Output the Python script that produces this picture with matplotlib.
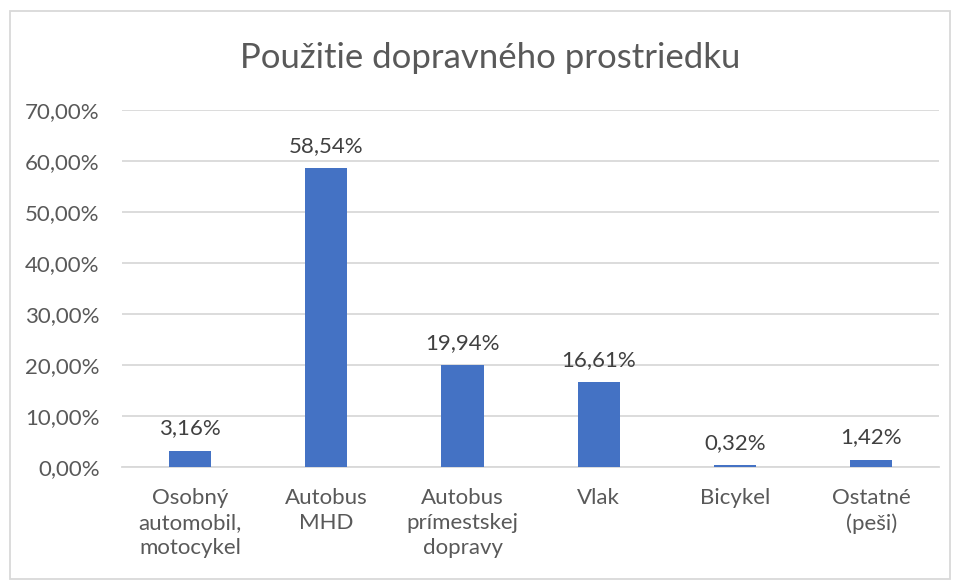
import matplotlib
matplotlib.use("Agg")
import matplotlib.pyplot as plt
from matplotlib.patches import Rectangle

# data
kategorie = ["Osobný\nautomobil,\nmotocykel", "Autobus\nMHD", "Autobus\nprímestskej\ndopravy",
             "Vlak", "Bicykel", "Ostatné\n(peši)"]
podiely = [3.16, 58.54, 19.94, 16.61, 0.32, 1.42]
y_ticky = [0, 10, 20, 30, 40, 50, 60, 70]

plt.rcParams['font.family'] = ['Lato', 'DejaVu Sans']
sivá = "#595959"

fig = plt.figure(figsize=(9.56, 5.81), dpi=100)
ax = fig.add_axes([0.1276, 0.196, 0.855, 0.6147])

x = list(range(len(kategorie)))
ax.bar(x, podiely, width=0.31, color="#4472C4", zorder=3)

for xi, v in zip(x, podiely):
    ax.annotate(f"{v:.2f}%".replace(".", ","), (xi, v), xytext=(0, 9),
                textcoords="offset points", ha="center", va="bottom",
                fontsize=16, color="#404040")

ax.set_xlim(-0.5, len(kategorie) - 0.5)
ax.set_ylim(0, 70)
ax.set_yticks(y_ticky)
ax.set_yticklabels([f"{t:.2f}%".replace(".", ",") for t in y_ticky])
ax.set_xticks(x)
ax.set_xticklabels(kategorie, linespacing=1.32)
ax.tick_params(axis="both", length=0, labelsize=16, labelcolor=sivá)
ax.tick_params(axis="y", pad=16)
ax.tick_params(axis="x", pad=15)
ax.grid(axis="y", color="#D9D9D9", linewidth=1.3, zorder=0)
for s in ["top", "right", "left"]:
    ax.spines[s].set_visible(False)
ax.spines["bottom"].set_color("#D9D9D9")
ax.spines["bottom"].set_linewidth(1.3)

fig.text(0.513, 0.9, "Použitie dopravného prostriedku", ha="center", va="center",
         fontsize=25, color=sivá)

# ram okolo grafu
fig.patches.append(Rectangle((10 / 956, 2 / 581), 940 / 956, 568 / 581,
                             transform=fig.transFigure, fill=False,
                             edgecolor="#D9D9D9", linewidth=1.3))

fig.savefig("out.png", dpi=100)
